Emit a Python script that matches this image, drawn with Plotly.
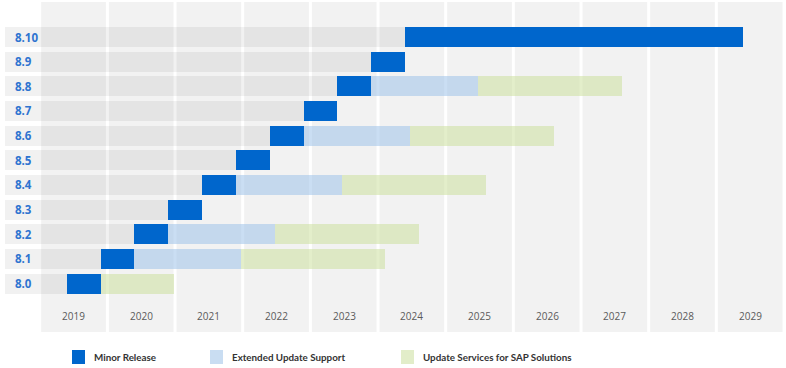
import plotly.graph_objects as go

# ---- data ----
versions = ["8.0", "8.1", "8.2", "8.3", "8.4", "8.5", "8.6", "8.7", "8.8", "8.9", "8.10"]
minor_start = [2019.40, 2019.90, 2020.40, 2020.90, 2021.40, 2021.90, 2022.40, 2022.90, 2023.40, 2023.90, 2024.40]
minor_end = [2019.90, 2020.40, 2020.90, 2021.40, 2021.90, 2022.40, 2022.90, 2023.40, 2023.90, 2024.40, 2029.40]
eus_end = [None, 2021.97, 2022.47, None, 2023.47, None, 2024.47, None, 2025.47, None, None]
sap_end = [2020.98, 2024.11, 2024.60, None, 2025.60, None, 2026.60, None, 2027.60, None, None]
years = [2019, 2020, 2021, 2022, 2023, 2024, 2025, 2026, 2027, 2028, 2029]
legend_names = ["Minor Release", "Extended Update Support", "Update Services for SAP Solutions"]

# ---- layout constants ----
W, H = 786, 368
ML, MR, MT, MB = 5, 3, 2, 36
X_RANGE = [2018.487, 2029.985]
Y_RANGE = [-1.967, 11.42]
BAR_W = 0.81
PX_PER_YR = (W - ML - MR) / (X_RANGE[1] - X_RANGE[0])

C_MINOR = "#0066cc"
C_EUS = "rgba(150,190,232,0.5)"
C_SAP = "rgba(200,222,150,0.5)"
C_ROW = "rgba(0,0,0,0.055)"
C_COL = "#f2f2f2"

idx = list(range(len(versions)))
fig = go.Figure()

# row background (label box + gray track up to release)
fig.add_trace(go.Bar(
    orientation="h", y=idx, base=[X_RANGE[0]] * len(idx),
    x=[s - X_RANGE[0] for s in minor_start],
    marker=dict(color=C_ROW, line=dict(width=0)), width=BAR_W,
    hoverinfo="skip", showlegend=False))

# minor release
fig.add_trace(go.Bar(
    orientation="h", y=idx, base=minor_start,
    x=[e - s for s, e in zip(minor_start, minor_end)],
    marker=dict(color=C_MINOR, line=dict(width=0)), width=BAR_W,
    name=legend_names[0], showlegend=False))

# EUS
ey, eb, ex = [], [], []
for i, (me, ee) in enumerate(zip(minor_end, eus_end)):
    if ee is not None:
        ey.append(i); eb.append(me); ex.append(ee - me)
fig.add_trace(go.Bar(
    orientation="h", y=ey, base=eb, x=ex,
    marker=dict(color=C_EUS, line=dict(width=0)), width=BAR_W,
    name=legend_names[1], showlegend=False))

# SAP
sy, sb, sx = [], [], []
for i, (me, ee, se) in enumerate(zip(minor_end, eus_end, sap_end)):
    if se is not None:
        st = ee if ee is not None else me
        sy.append(i); sb.append(st); sx.append(se - st)
fig.add_trace(go.Bar(
    orientation="h", y=sy, base=sb, x=sx,
    marker=dict(color=C_SAP, line=dict(width=0)), width=BAR_W,
    name=legend_names[2], showlegend=False))

shapes = []
annotations = []
gap = 1.5 / PX_PER_YR
for yr in years:
    shapes.append(dict(type="rect", xref="x", yref="paper", x0=yr + gap, x1=yr + 1 - gap,
                       y0=0, y1=1, fillcolor=C_COL, line=dict(width=0), layer="below"))
    annotations.append(dict(x=yr + 0.5, y=-1.32, xref="x", yref="y", text=str(yr), showarrow=False,
                            font=dict(family="Open Sans", size=10, color="#5a5a5a")))

label_x = X_RANGE[0] + 8 / PX_PER_YR
for i, v in enumerate(versions):
    annotations.append(dict(x=label_x, y=i, xref="x", yref="y", text=f"<b>{v}</b>", showarrow=False,
                            xanchor="left", font=dict(family="Open Sans", size=11.5, color="#2f74d0")))

# custom legend
plot_w = W - ML - MR
plot_h = H - MT - MB
def px_x(p):
    return (p - ML) / plot_w
def px_y(p):
    return (H - MB - p) / plot_h

legend_items = [(72, 92, C_MINOR), (210, 230, "#c9ddf2"), (401, 421, "#e2edc9")]
for (sq, tx, col), name in zip(legend_items, legend_names):
    shapes.append(dict(type="rect", xref="paper", yref="paper", x0=px_x(sq), x1=px_x(sq + 13),
                       y0=px_y(364), y1=px_y(350), fillcolor=col, line=dict(width=0)))
    annotations.append(dict(x=px_x(tx), y=px_y(357), xref="paper", yref="paper", text=name,
                            showarrow=False, xanchor="left", yanchor="middle",
                            font=dict(family="Lato", size=9.8, color="#333333", weight=700)))

fig.update_layout(
    width=W, height=H,
    margin=dict(l=ML, r=MR, t=MT, b=MB, pad=0),
    paper_bgcolor="white", plot_bgcolor="white",
    barmode="overlay", bargap=0,
    xaxis=dict(range=X_RANGE, showgrid=False, zeroline=False, showticklabels=False, ticks="", fixedrange=True),
    yaxis=dict(range=Y_RANGE, showgrid=False, zeroline=False, showticklabels=False, ticks="", fixedrange=True),
    shapes=shapes, annotations=annotations, showlegend=False,
)

fig.write_html("out.html", config={"displayModeBar": False},
               post_script="document.body.style.margin='0';document.body.style.overflow='hidden';")
